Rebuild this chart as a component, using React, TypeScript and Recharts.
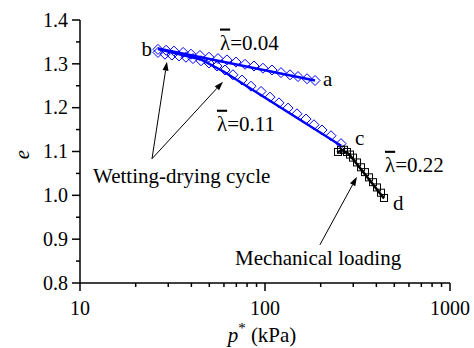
import React from "react";
import { ScatterChart, Scatter, XAxis, YAxis, ReferenceDot, ReferenceLine } from "recharts";

const FONT = "Liberation Serif, Times New Roman, serif";
const BLUE = "#0000ff";

// wetting-drying, upper branch a -> b  (p* in kPa, e)
const upperP = [26.4, 29.2, 32.2, 36.1, 39.8, 44.5, 49.8, 55.7, 62.3, 69.7, 78.0, 87.2, 97.5, 109.1, 122.0, 136.5, 150.8, 168.7, 186.4];
const upperE = [1.333, 1.331, 1.329, 1.326, 1.322, 1.319, 1.315, 1.312, 1.309, 1.304, 1.299, 1.295, 1.290, 1.286, 1.280, 1.275, 1.271, 1.266, 1.262];

// wetting-drying, lower branch b -> c
const lowerP = [26.4, 28.8, 31.4, 34.3, 37.4, 40.8, 45.1, 49.8, 55.0, 60.8, 67.1, 75.1, 84.0, 95.2, 106.4, 119.0, 133.2, 148.9, 166.6, 184.0, 203.3, 227.4, 257.6];
const lowerE = [1.326, 1.322, 1.320, 1.318, 1.315, 1.312, 1.307, 1.302, 1.295, 1.286, 1.275, 1.263, 1.249, 1.237, 1.224, 1.211, 1.199, 1.186, 1.174, 1.161, 1.149, 1.136, 1.118];

// mechanical loading c -> d
const mechP = [248.1, 257.6, 267.3, 277.5, 288.1, 299.0, 314.4, 330.4, 347.1, 365.0, 383.6, 403.1, 423.7, 439.8];
const mechE = [1.099, 1.104, 1.104, 1.099, 1.093, 1.086, 1.075, 1.064, 1.053, 1.041, 1.030, 1.018, 1.006, 0.994];

// fitted lines
const fitUpperP = [26.4, 186.4];
const fitUpperE = [1.335, 1.262];
const fitLowerP = [26.4, 45, 60, 258];
const fitLowerE = [1.334, 1.31, 1.282, 1.113];
const fitMechP = [245, 262, 285, 440];
const fitMechE = [1.098, 1.103, 1.094, 0.993];

const xTicks = [10, 20, 30, 40, 50, 60, 70, 80, 90, 100, 200, 300, 400, 500, 600, 700, 800, 900, 1000];
const yTicks = [0.8, 0.85, 0.9, 0.95, 1.0, 1.05, 1.1, 1.15, 1.2, 1.25, 1.3, 1.35, 1.4];

const toPts = (p: number[], e: number[]) => p.map((v, i) => ({ p: v, e: e[i] }));

const tStyle = { fontFamily: FONT };

const Diamond = (props: any) => {
    const { cx, cy } = props;
    const r = 5;
    return <path d={`M${cx},${cy - r}L${cx + r},${cy}L${cx},${cy + r}L${cx - r},${cy}Z`} fill="none" stroke={BLUE} strokeWidth={1} />;
};

const Square = (props: any) => {
    const { cx, cy } = props;
    return <rect x={cx - 3.5} y={cy - 3.5} width={7} height={7} fill="none" stroke="#000" strokeWidth={1} />;
};

const NoDot = () => <g />;

const XTick = (props: any) => {
    const { x, y, payload } = props;
    const v = payload.value;
    const major = v === 10 || v === 100 || v === 1000;
    return (
        <g>
            <line x1={x} y1={y} x2={x} y2={y + (major ? 8 : 4)} stroke="#000" strokeWidth={1.5} />
            {major && <text x={x} y={y + 32} textAnchor="middle" style={tStyle} fontSize={20} fill="#000">{v}</text>}
        </g>
    );
};

const YTick = (props: any) => {
    const { x, y, payload } = props;
    const v = payload.value;
    const major = Math.round(v * 100) % 10 === 0;
    return (
        <g>
            <line x1={x - (major ? 8 : 4)} y1={y} x2={x} y2={y} stroke="#000" strokeWidth={1.5} />
            {major && <text x={x - 12} y={y} dy="0.34em" textAnchor="end" style={tStyle} fontSize={20} fill="#000">{v.toFixed(1)}</text>}
        </g>
    );
};

const yLabel = (props: any) => {
    const vb = props.viewBox;
    const cx = vb.x + 22;
    const cy = vb.y + vb.height / 2 + 3;
    return (
        <text x={cx} y={cy} transform={`rotate(-90, ${cx}, ${cy})`} textAnchor="middle" dominantBaseline="central"
            style={tStyle} fontSize={21} fontStyle="italic" fill="#000">e</text>
    );
};

const xLabel = (props: any) => {
    const vb = props.viewBox;
    const cx = vb.x + vb.width / 2 - 3;
    return (
        <text x={cx} y={vb.y + 59} textAnchor="middle" style={tStyle} fontSize={21} fill="#000">
            <tspan fontStyle="italic">p</tspan>
            <tspan dy={-9} fontSize={15}>*</tspan>
            <tspan dy={9}> (kPa)</tspan>
        </text>
    );
};

const txt = (s: string, anchor: string = "start") => (props: any) => (
    <text x={props.cx} y={props.cy} textAnchor={anchor} style={tStyle} fontSize={21} fill="#000">{s}</text>
);

const lam = (s: string) => (props: any) => (
    <text x={props.cx} y={props.cy} style={tStyle} fontSize={21} fill="#000">
        <tspan style={{ textDecoration: "overline" }}>λ</tspan>{s}
    </text>
);

const arrow = (props: any) => {
    const { x1, y1, x2, y2 } = props;
    const ang = Math.atan2(y2 - y1, x2 - x1);
    const L = 9, W = 3;
    const bx = x2 - L * Math.cos(ang), by = y2 - L * Math.sin(ang);
    const px = -Math.sin(ang) * W, py = Math.cos(ang) * W;
    return (
        <g>
            <line x1={x1} y1={y1} x2={bx} y2={by} stroke="#000" strokeWidth={1} />
            <path d={`M${x2},${y2}L${bx + px},${by + py}L${bx - px},${by - py}Z`} fill="#000" />
        </g>
    );
};

export default function App() {
    return (
        <div style={{ position: "absolute", left: 0, top: 0, width: 474, height: 348, background: "#fff", fontFamily: FONT }}>
            <ScatterChart width={474} height={348} margin={{ top: 20, right: 24, bottom: 0, left: 0 }}>
                <XAxis type="number" dataKey="p" scale="log" domain={[10, 1000]} allowDataOverflow ticks={xTicks} interval={0}
                    tick={XTick} tickLine={false} tickSize={0} tickMargin={0} height={65}
                    axisLine={{ stroke: "#000", strokeWidth: 1.5 }} label={xLabel} />
                <YAxis type="number" dataKey="e" domain={[0.8, 1.4]} allowDataOverflow ticks={yTicks} interval={0}
                    tick={YTick} tickLine={false} tickSize={0} tickMargin={0} width={80}
                    axisLine={{ stroke: "#000", strokeWidth: 1.5 }} label={yLabel} />

                <Scatter data={toPts(upperP, upperE)} shape={Diamond} isAnimationActive={false} />
                <Scatter data={toPts(lowerP, lowerE)} shape={Diamond} isAnimationActive={false} />
                <Scatter data={toPts(mechP, mechE)} shape={Square} isAnimationActive={false} />

                <Scatter data={toPts(fitUpperP, fitUpperE)} shape={NoDot} fill="none" line={{ stroke: BLUE, strokeWidth: 2.5 }} isAnimationActive={false} />
                <Scatter data={toPts(fitLowerP, fitLowerE)} shape={NoDot} fill="none" line={{ stroke: BLUE, strokeWidth: 2.5 }} isAnimationActive={false} />
                <Scatter data={toPts(fitMechP, fitMechE)} shape={NoDot} fill="none" line={{ stroke: "#000", strokeWidth: 2.5 }} isAnimationActive={false} />

                <ReferenceLine segment={[{ x: 24.5, y: 1.0834 }, { x: 29.5, y: 1.305 }]} shape={arrow} ifOverflow="visible" />
                <ReferenceLine segment={[{ x: 24.5, y: 1.0834 }, { x: 59.3, y: 1.2594 }]} shape={arrow} ifOverflow="visible" />
                <ReferenceLine segment={[{ x: 198, y: 0.887 }, { x: 314, y: 1.0423 }]} shape={arrow} ifOverflow="visible" />

                <ReferenceDot x={205.8} y={1.2503} shape={txt("a")} ifOverflow="visible" />
                <ReferenceDot x={24.5} y={1.3177} shape={txt("b", "end")} ifOverflow="visible" />
                <ReferenceDot x={306.6} y={1.1154} shape={txt("c")} ifOverflow="visible" />
                <ReferenceDot x={491.8} y={0.9669} shape={txt("d")} ifOverflow="visible" />
                <ReferenceDot x={57.1} y={1.3326} shape={lam("=0.04")} ifOverflow="visible" />
                <ReferenceDot x={55.0} y={1.1474} shape={lam("=0.11")} ifOverflow="visible" />
                <ReferenceDot x={445.2} y={1.0537} shape={lam("=0.22")} ifOverflow="visible" />
                <ReferenceDot x={11.76} y={1.0286} shape={txt("Wetting-drying cycle")} ifOverflow="visible" />
                <ReferenceDot x={68.8} y={0.8411} shape={txt("Mechanical loading")} ifOverflow="visible" />
            </ScatterChart>
        </div>
    );
}
